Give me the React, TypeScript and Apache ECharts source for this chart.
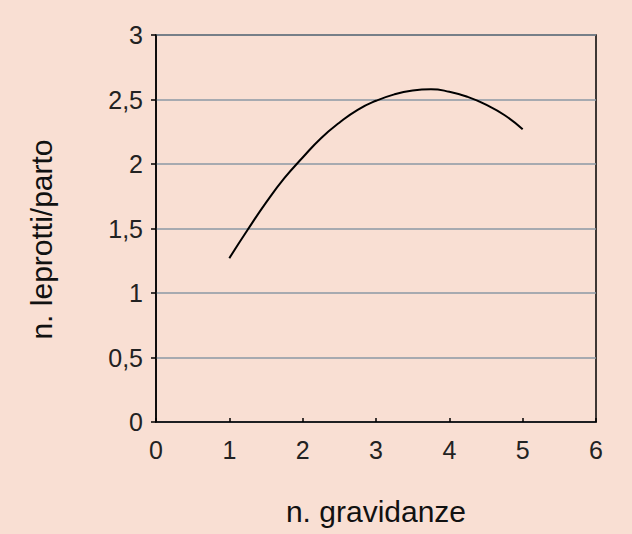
import React, { useEffect, useRef } from "react";
import * as echarts from "echarts";

const xValues = [1, 1.25, 1.5, 1.75, 2, 2.25, 2.5, 2.75, 3, 3.25, 3.5, 3.75, 4, 4.25, 4.5, 4.75, 5];
const yValues = [1.27, 1.49, 1.7, 1.89, 2.05, 2.2, 2.32, 2.42, 2.49, 2.54, 2.57, 2.58, 2.56, 2.52, 2.46, 2.38, 2.27];
const xName = "n. gravidanze";
const yName = "n. leprotti/parto";

const BG = "#f9dfd3";
const FONT = "'Liberation Sans', Arial, Helvetica, sans-serif";

export default function App() {
  const ref = useRef<HTMLDivElement>(null);
  useEffect(() => {
    if (!ref.current) return;
    const chart = echarts.init(ref.current, undefined, { renderer: "svg" });
    chart.setOption({
      animation: false,
      backgroundColor: BG,
      textStyle: { fontFamily: FONT },
      grid: {
        left: 156,
        right: 36,
        top: 35,
        bottom: 112,
        outerBoundsMode: "none",
        containLabel: false,
        show: true,
        borderColor: "#000",
        borderWidth: 1.5,
        backgroundColor: BG,
      },
      xAxis: {
        type: "value",
        min: 0,
        max: 6,
        interval: 1,
        name: xName,
        nameLocation: "middle",
        nameGap: 74,
        nameTextStyle: { fontSize: 30, color: "#111", fontFamily: FONT },
        axisLine: { show: true, lineStyle: { color: "#000", width: 1.5 } },
        axisTick: { show: true, inside: true, length: 4, lineStyle: { color: "#000", width: 1.5 } },
        axisLabel: { fontSize: 25, color: "#222", margin: 15, fontFamily: FONT },
        splitLine: { show: false },
      },
      yAxis: {
        type: "value",
        min: 0,
        max: 3,
        interval: 0.5,
        name: yName,
        nameLocation: "middle",
        nameGap: 100,
        nameTextStyle: { fontSize: 30, color: "#111", fontFamily: FONT, padding: [0, 22, 0, 0] },
        axisLine: { show: true, lineStyle: { color: "#000", width: 1.5 } },
        axisTick: { show: true, inside: false, length: 5, lineStyle: { color: "#000", width: 1.5 } },
        axisLabel: {
          fontSize: 25,
          color: "#222",
          margin: 13,
          fontFamily: FONT,
          formatter: (v: number) => String(v).replace(".", ","),
        },
        splitLine: { show: true, lineStyle: { color: "#8b98a5", width: 1.5 } },
      },
      series: [
        {
          type: "line",
          data: xValues.map((x, i) => [x, yValues[i]]),
          smooth: true,
          showSymbol: false,
          lineStyle: { color: "#000", width: 2 },
        },
      ],
    });
    return () => chart.dispose();
  }, []);
  return <div ref={ref} style={{ width: 632, height: 534, position: "absolute", left: 0, top: 0 }} />;
}
